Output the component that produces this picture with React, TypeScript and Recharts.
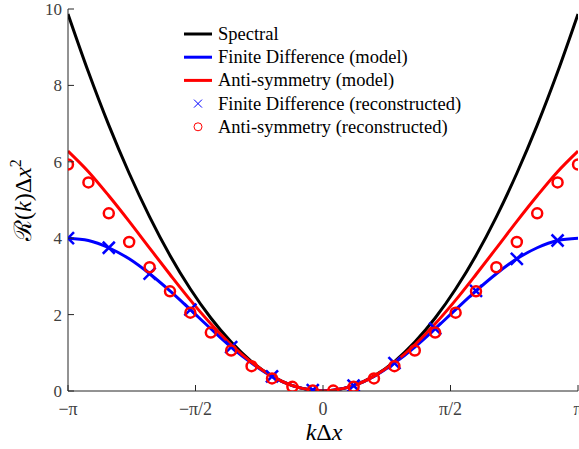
import { ComposedChart, Line, Scatter, XAxis, YAxis, Label } from "recharts";

// k grid used by the model curves (plus k = 0)
const kLine = [
  -3.142, -2.89, -2.639, -2.388, -2.136, -1.885, -1.634, -1.382, -1.131, -0.88, -0.628, -0.377, -0.126, 0,
  0.126, 0.377, 0.628, 0.88, 1.131, 1.382, 1.634, 1.885, 2.136, 2.388, 2.639, 2.89, 3.142,
];
const spectralVals = [
  9.87, 8.35, 6.96, 5.7, 4.56, 3.55, 2.67, 1.91, 1.28, 0.77, 0.39, 0.14, 0.02, 0,
  0.02, 0.14, 0.39, 0.77, 1.28, 1.91, 2.67, 3.55, 4.56, 5.7, 6.96, 8.35, 9.87,
];
const fdModelVals = [
  4.0, 3.94, 3.75, 3.46, 3.07, 2.62, 2.13, 1.63, 1.15, 0.73, 0.38, 0.14, 0.02, 0,
  0.02, 0.14, 0.38, 0.73, 1.15, 1.63, 2.13, 2.62, 3.07, 3.46, 3.75, 3.94, 4.0,
];
const asModelVals = [
  6.28, 5.74, 5.11, 4.44, 3.74, 3.05, 2.38, 1.76, 1.21, 0.75, 0.39, 0.14, 0.02, 0,
  0.02, 0.14, 0.39, 0.75, 1.21, 1.76, 2.38, 3.05, 3.74, 4.44, 5.11, 5.74, 6.28,
];

// reconstructed points
const kFdRec = [-3.142, -2.639, -2.136, -1.634, -1.131, -0.628, -0.126, 0.377, 0.88, 1.382, 1.885, 2.388, 2.89];
const fdRecVals = [4.0, 3.75, 3.07, 2.13, 1.15, 0.38, 0.02, 0.14, 0.73, 1.63, 2.62, 3.46, 3.94];

const kAsRec = [
  -3.142, -2.89, -2.639, -2.388, -2.136, -1.885, -1.634, -1.382, -1.131, -0.88, -0.628, -0.377, -0.126,
  0.126, 0.377, 0.628, 0.88, 1.131, 1.382, 1.634, 1.885, 2.136, 2.388, 2.639, 2.89, 3.142,
];
const asRecVals = [
  5.93, 5.46, 4.65, 3.9, 3.24, 2.61, 2.05, 1.53, 1.06, 0.65, 0.33, 0.11, 0.01,
  0.01, 0.11, 0.33, 0.65, 1.06, 1.53, 2.05, 2.61, 3.24, 3.9, 4.65, 5.46, 5.93,
];

const xTicks = [-Math.PI, -Math.PI / 2, 0, Math.PI / 2, Math.PI];
const xTickLabels = ["−π", "−π/2", "0", "π/2", "π"];
const yTicks = [0, 2, 4, 6, 8, 10];

const toPts = (ks: number[], vs: number[]) => ks.map((k, i) => ({ k, v: vs[i] }));

const spectral = toPts(kLine, spectralVals);
const fdModel = toPts(kLine, fdModelVals);
const asModel = toPts(kLine, asModelVals);
const fdRec = toPts(kFdRec, fdRecVals);
const asRec = toPts(kAsRec, asRecVals);

const FONT = "'Liberation Serif', 'DejaVu Serif', serif";
const AXIS = "#262626";
const TICK_TXT = "#404040";

const xLabel = (v: number) => {
  const i = xTicks.findIndex((t) => Math.abs(t - v) < 1e-6);
  return i >= 0 ? xTickLabels[i] : String(v);
};

const BottomTick = ({ x, y, payload }: any) => (
  <g>
    <line x1={x} x2={x} y1={y} y2={y - 6} stroke={AXIS} />
    <text x={x} y={y + 24} textAnchor="middle" fontFamily={FONT} fontSize={18} fill={TICK_TXT}>
      {xLabel(payload.value)}
    </text>
  </g>
);
const TopTick = ({ x, y }: any) => <line x1={x} x2={x} y1={y} y2={y + 6} stroke={AXIS} />;
const LeftTick = ({ x, y, payload }: any) => (
  <g>
    <line x1={x} x2={x + 6} y1={y} y2={y} stroke={AXIS} />
    <text x={x - 6} y={y + 6} textAnchor="end" fontFamily={FONT} fontSize={17} fill={TICK_TXT}>
      {payload.value}
    </text>
  </g>
);
const RightTick = ({ x, y }: any) => <line x1={x} x2={x - 6} y1={y} y2={y} stroke={AXIS} />;

const Cross = ({ cx, cy }: any) => {
  if (cx == null || cy == null) return null;
  const s = 6;
  return (
    <g stroke="#0000ff" strokeWidth={2.5}>
      <line x1={cx - s} y1={cy - s} x2={cx + s} y2={cy + s} />
      <line x1={cx - s} y1={cy + s} x2={cx + s} y2={cy - s} />
    </g>
  );
};
const Ring = ({ cx, cy }: any) => {
  if (cx == null || cy == null) return null;
  return <circle cx={cx} cy={cy} r={5} fill="none" stroke="#ff0000" strokeWidth={2.5} />;
};

const legendItems = [
  { name: "Spectral", color: "#000000", kind: "line" },
  { name: "Finite Difference (model)", color: "#0000ff", kind: "line" },
  { name: "Anti-symmetry (model)", color: "#ff0000", kind: "line" },
  { name: "Finite Difference (reconstructed)", color: "#0000ff", kind: "cross" },
  { name: "Anti-symmetry (reconstructed)", color: "#ff0000", kind: "ring" },
];

const ChartLegend = () => (
  <svg width={300} height={120} style={{ position: "absolute", left: 184, top: 24 }}>
    {legendItems.map((it, i) => {
      const y = 10 + i * 23.2;
      return (
        <g key={it.name}>
          {it.kind === "line" && <line x1={0} x2={28} y1={y} y2={y} stroke={it.color} strokeWidth={3} />}
          {it.kind === "cross" && (
            <g stroke={it.color} strokeWidth={1}>
              <line x1={10} y1={y - 4} x2={18} y2={y + 4} />
              <line x1={10} y1={y + 4} x2={18} y2={y - 4} />
            </g>
          )}
          {it.kind === "ring" && <circle cx={14} cy={y} r={4} fill="none" stroke={it.color} strokeWidth={1} />}
          <text x={34} y={y + 6} fontFamily={FONT} fontSize={18.5} fill="#000">
            {it.name}
          </text>
        </g>
      );
    })}
  </svg>
);

const YTitle = () => (
  <text
    transform="translate(31, 200) rotate(-90)"
    textAnchor="middle"
    fontFamily={FONT}
    fontSize={24}
    fill="#000"
  >
    <tspan>ℛ(</tspan>
    <tspan fontStyle="italic">k</tspan>
    <tspan>)Δ</tspan>
    <tspan fontStyle="italic">x</tspan>
    <tspan fontSize={16} dy={-10}>2</tspan>
  </text>
);

const XTitle = () => (
  <text x={324} y={440} textAnchor="middle" fontFamily={FONT} fontSize={24} fill="#000">
    <tspan fontStyle="italic">k</tspan>
    <tspan>Δ</tspan>
    <tspan fontStyle="italic">x</tspan>
  </text>
);

export default function App() {
  return (
    <div style={{ position: "fixed", left: 0, top: 0, width: 579, height: 449, overflow: "hidden", background: "#fff" }}>
      <ComposedChart width={600} height={449} margin={{ top: 9, right: 22, bottom: 0, left: 0 }}>
        <XAxis
          dataKey="k"
          type="number"
          domain={[-Math.PI, Math.PI]}
          ticks={xTicks}
          allowDataOverflow
          height={58}
          stroke={AXIS}
          tickSize={0}
          tickMargin={0}
          tick={<BottomTick />}
          interval={0}
        >
          <Label content={<XTitle />} />
        </XAxis>
        <XAxis
          xAxisId="top"
          orientation="top"
          type="number"
          domain={[-Math.PI, Math.PI]}
          ticks={xTicks}
          allowDataOverflow
          height={0}
          stroke={AXIS}
          tickSize={0}
          tickMargin={0}
          tick={<TopTick />}
          interval={0}
        />
        <YAxis
          type="number"
          domain={[0, 10]}
          ticks={yTicks}
          allowDataOverflow
          width={68}
          stroke={AXIS}
          tickSize={0}
          tickMargin={0}
          tick={<LeftTick />}
          interval={0}
        >
          <Label content={<YTitle />} />
        </YAxis>
        <YAxis
          yAxisId="right"
          orientation="right"
          type="number"
          domain={[0, 10]}
          ticks={yTicks}
          allowDataOverflow
          width={0}
          stroke={AXIS}
          tickSize={0}
          tickMargin={0}
          tick={<RightTick />}
          interval={0}
        />
        <Line data={spectral} dataKey="v" type="monotone" stroke="#000000" strokeWidth={3} dot={false} isAnimationActive={false} name="Spectral" />
        <Line data={fdModel} dataKey="v" type="monotone" stroke="#0000ff" strokeWidth={3} dot={false} isAnimationActive={false} name="Finite Difference (model)" />
        <Line data={asModel} dataKey="v" type="monotone" stroke="#ff0000" strokeWidth={3} dot={false} isAnimationActive={false} name="Anti-symmetry (model)" />
        <Scatter data={fdRec} dataKey="v" shape={<Cross />} isAnimationActive={false} name="Finite Difference (reconstructed)" />
        <Scatter data={asRec} dataKey="v" shape={<Ring />} isAnimationActive={false} name="Anti-symmetry (reconstructed)" />
      </ComposedChart>
      <ChartLegend />
    </div>
  );
}
